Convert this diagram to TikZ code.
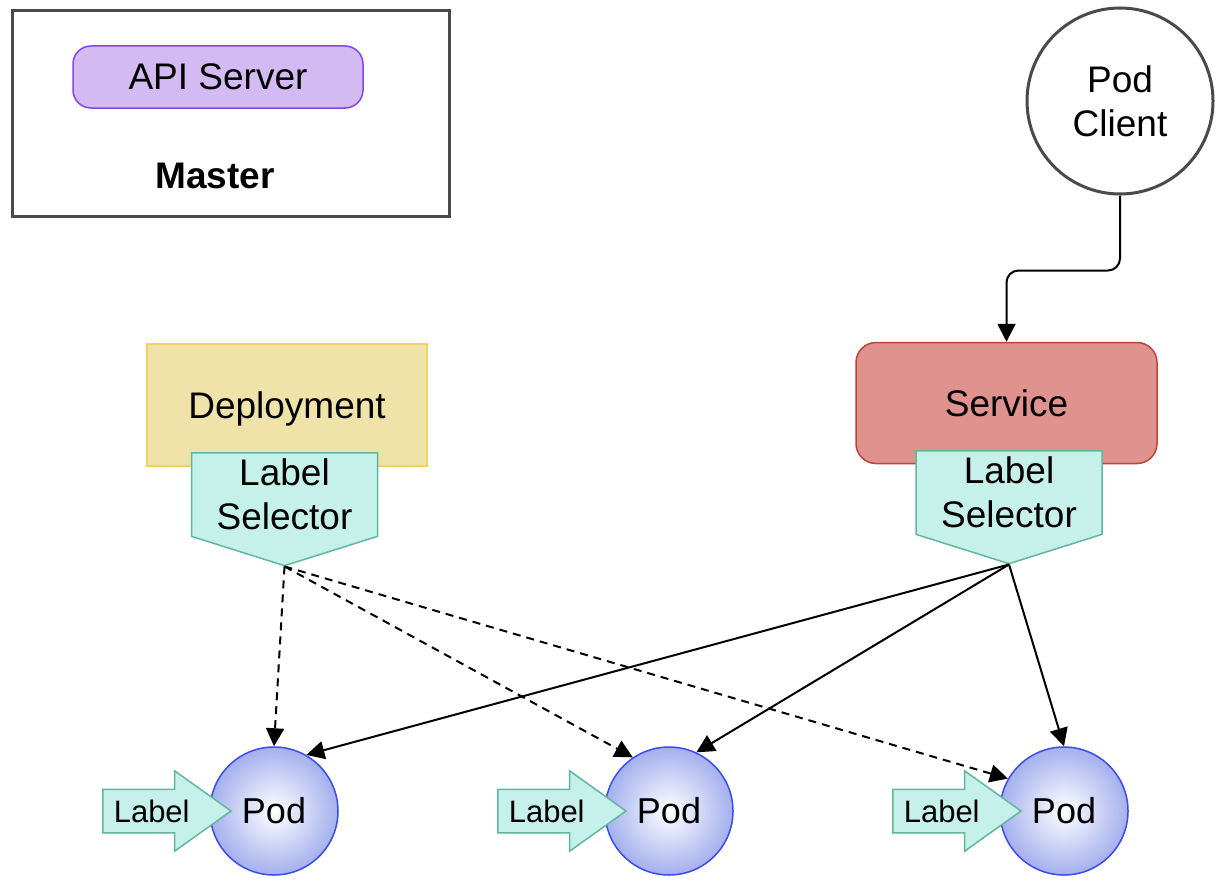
\documentclass[tikz,border=0pt]{standalone}
\usepackage{fontspec}
\setmainfont{Liberation Sans}
\usetikzlibrary{arrows,arrows.meta,shapes,positioning}
\definecolor{boxgray}{HTML}{4A4A4A}
\definecolor{apifill}{HTML}{D4BAF3}
\definecolor{apiline}{HTML}{8546E6}
\definecolor{depfill}{HTML}{EFE3A9}
\definecolor{depline}{HTML}{F3D35E}
\definecolor{svcfill}{HTML}{DF928E}
\definecolor{svcline}{HTML}{BF4438}
\definecolor{selfill}{HTML}{C6F0EA}
\definecolor{selline}{HTML}{62B6A0}
\definecolor{podfill}{HTML}{A4B0EE}
\definecolor{podline}{HTML}{3A4BF0}
\newcommand{\grandtxt}{\fontsize{18.5}{22}\selectfont}
\newcommand{\podtxt}{\fontsize{18}{22}\selectfont}
\newcommand{\petittxt}{\fontsize{15.5}{18}\selectfont}

\begin{document}
\begin{tikzpicture}[x=0.5pt,y=-0.5pt,->,>={Triangle[length=9pt,width=9pt]},auto,node distance=197.5pt,line width=1pt]
  \tikzstyle{every node}=[font=\grandtxt,align=center]
  \tikzstyle{boite}=[draw,rectangle,line width=0.75pt]
  \tikzstyle{selector}=[draw=selline,fill=selfill,line width=0.75pt,signal,signal to=south,signal pointer angle=145,minimum width=93pt,minimum height=52.5pt,inner sep=0pt]
  \tikzstyle{pod}=[circle,draw=podline,line width=0.75pt,shading=radial,inner color=white,outer color=podfill,minimum size=64pt,font=\podtxt]
  \tikzstyle{labelarrow}=[single arrow,draw=selline,fill=selfill,line width=0.75pt,single arrow head extend=9.25pt,single arrow tip angle=71,minimum height=64pt,inner xsep=2pt,inner ysep=5pt,text height=11pt,text depth=0pt,font=\petittxt]
  \tikzstyle{tirets}=[dash pattern=on 4pt off 3pt]

  \useasboundingbox (0,0) rectangle (1224,888);

  \node[boite,draw=boxgray,line width=1.5pt,minimum width=218.5pt,minimum height=102.5pt] (master) at (230.5,113.5) {};
  \node[boite,draw=apiline,fill=apifill,rounded corners=9pt,minimum width=145pt,minimum height=31pt] (api) at (218,77) {API Server};
  \node[font=\grandtxt\bfseries] (mastername) at (215,176) {Master};

  \node[circle,draw=boxgray,line width=1.5pt,fill=white,minimum size=93pt] (client) at (1120,101) {Pod\\Client};

  \node[boite,draw=depline,fill=depfill,text depth=0pt,minimum width=140pt,minimum height=61pt] (deploy) at (287,405) {Deployment};
  \node[boite,draw=svcline,fill=svcfill,rounded corners=10pt,minimum width=150.5pt,minimum height=60.5pt] (service) at (1006.5,403) {Service};

  \node[selector,anchor=north] (selD) at (284.5,452) {Label\\Selector};
  \node[selector,anchor=north] (selS) at (1009,450) {Label\\Selector};

  \node[pod] (pod1) at (274,811) {Pod};
  \node[pod] (pod2) [right of=pod1] {Pod};
  \node[pod] (pod3) [right of=pod2] {Pod};

  \node[labelarrow,anchor=tip] (lab1) at ([xshift=11.5pt]pod1.west) {Label};
  \node[labelarrow,anchor=tip] (lab2) at ([xshift=11.5pt]pod2.west) {Label};
  \node[labelarrow,anchor=tip] (lab3) at ([xshift=11.5pt]pod3.west) {Label};

  \draw[rounded corners=6pt] (client.south) -- ++(0,75) -| (service.north);

  \path (selD.south) edge[tirets] (pod1.north)
                     edge[tirets] (pod2.124)
                     edge[tirets] (pod3.150)
        (selS.south) edge (pod1.60)
                     edge (pod2.65)
                     edge (pod3.north);
\end{tikzpicture}
\end{document}
